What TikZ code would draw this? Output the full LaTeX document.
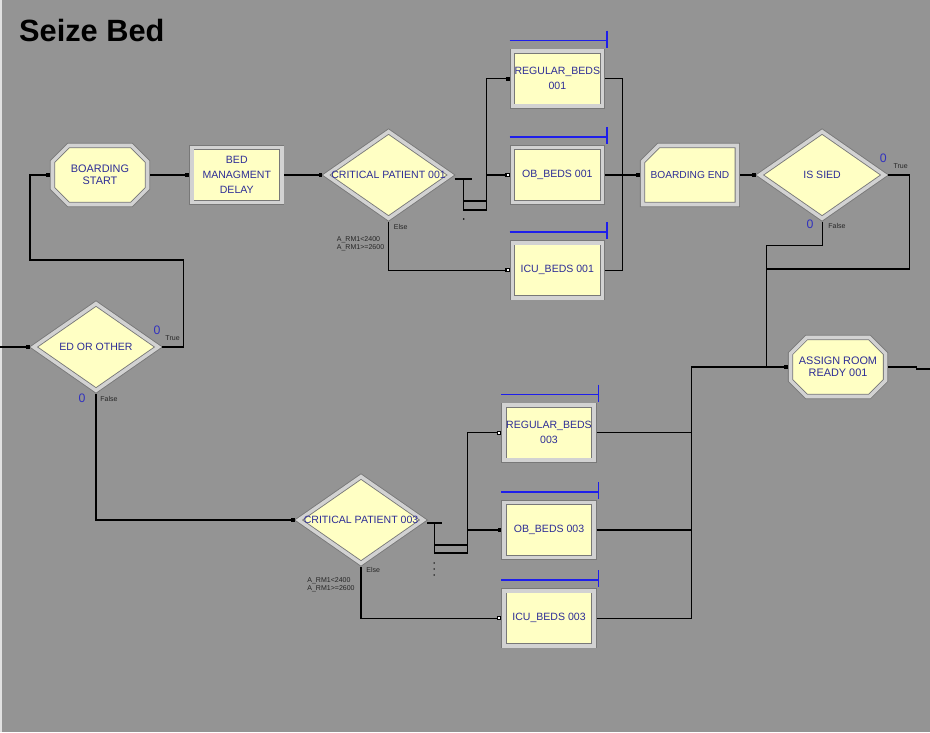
\documentclass[tikz,border=0pt]{standalone}
\usepackage{fontspec}
\setmainfont{Liberation Sans}
\usepackage{tikz}
\usetikzlibrary{shapes.geometric, shapes.misc, arrows.meta, positioning, calc}
\definecolor{cBg}{RGB}{148,148,148}
\definecolor{cFrame}{RGB}{225,225,225}
\definecolor{cFill}{RGB}{255,255,196}
\definecolor{cBevel}{RGB}{210,210,210}
\definecolor{cEdge}{RGB}{120,120,120}
\definecolor{cLabel}{RGB}{45,45,150}
\definecolor{cQueue}{RGB}{30,30,235}
\definecolor{cCount}{RGB}{50,50,190}
\tikzset{
	blk/.style   ={rectangle, draw=cEdge, double=cBevel, double distance=2pt, line width=0.5pt, outer sep=1.5pt, fill=cFill, minimum width=1.8cm, minimum height=1.1cm, inner xsep=1pt, align=center, text=cLabel, font=\fontsize{6}{8.5}\selectfont},
	seize/.style ={blk, chamfered rectangle, chamfered rectangle xsep=0.16cm, chamfered rectangle ysep=0.16cm, minimum width=1.9cm, minimum height=1.18cm, inner xsep=0pt, font=\fontsize{6.2}{6.8}\selectfont},
	decide/.style={diamond, draw=cEdge, double=cBevel, double distance=2pt, line width=0.5pt, outer sep=1.5pt, fill=cFill, minimum width=2.54cm, minimum height=1.78cm, inner sep=0pt},
	dtext/.style ={text=cLabel, font=\fontsize{6}{7}\selectfont},
	note/.style  ={font=\fontsize{4}{4.6}\selectfont, inner sep=0pt, text=black!85},
	cnt/.style   ={font=\fontsize{7}{8}\selectfont, inner sep=0pt, text=cCount},
	qline/.style ={cQueue, line width=0.8pt},
	% connectors
	flow/.style  ={-{Square[length=2.2pt,width=2.2pt]}, line width=0.6pt},
	flowo/.style ={-{Square[length=2.4pt,width=2.4pt,fill=white]}, line width=0.6pt},
	bus/.style   ={line width=0.6pt},
}
\begin{document}
\begin{tikzpicture}[font=\fontsize{6}{7}\selectfont]
	\fill[cBg] (0,0) rectangle (18.6,-14.64);
	\fill[cFrame] (0,0) rectangle (0.04,-14.64);
	\useasboundingbox (0,0) rectangle (18.6,-14.64);
	\node[anchor=base west, font=\bfseries\fontsize{17.5}{20}\selectfont] (title) at (0.26,-0.84) {Seize Bed};
	% upper row
	\node[seize] (bs) at (2.0,-3.5) {BOARDING\\START};
	\node[blk, right=0.78cm of bs] (bmd) {BED\\MANAGMENT\\DELAY};
	\node[decide, right=0.76cm of bmd, label={[dtext]center:CRITICAL PATIENT 001}] (cp1) {};
	\node[blk, right=1.1cm of cp1] (ob1) {OB\_BEDS 001};
	\node[blk, above=0.72cm of ob1] (rb1) {REGULAR\_BEDS\\001};
	\node[blk, below=0.7cm of ob1] (icu1) {ICU\_BEDS 001};
	\node[seize, chamfered rectangle corners=north west, minimum width=1.86cm, font=\fontsize{5.8}{6.8}\selectfont, right=0.7cm of ob1] (be) {BOARDING END};
	\node[decide, right=0.32cm of be, label={[dtext]center:IS SIED}] (sied) {};
	% lower row
	\node[decide, label={[dtext]center:ED OR OTHER}] (edo) at (1.92,-6.94) {};
	\node[seize] (arr) at (16.76,-7.34) {ASSIGN ROOM\\READY 001};
	\node[decide, label={[dtext]center:CRITICAL PATIENT 003}] (cp3) at (7.22,-10.4) {};
	\node[blk] (ob3) at (10.98,-10.6) {OB\_BEDS 003};
	\node[blk, above=0.74cm of ob3] (rb3) {REGULAR\_BEDS\\003};
	\node[blk, below=0.56cm of ob3] (icu3) {ICU\_BEDS 003};
	% queues
	\foreach \q in {rb1,ob1,icu1,rb3,ob3,icu3}{
		\draw[qline] ([yshift=0.16cm]\q.north west) -- ([xshift=0.04cm,yshift=0.16cm]\q.north east);
		\draw[qline] ([xshift=0.04cm,yshift=0.36cm]\q.north east) -- ([xshift=0.04cm,yshift=0.02cm]\q.north east);
	}
	% branch labels
	\node[cnt] (edoT0) at ([shift={(-0.1,0.34)}]edo.east) {0};
	\node[note, anchor=west] (edoT) at ([shift={(0.06,0.18)}]edo.east) {True};
	\node[cnt] (edoF0) at ([shift={(-0.28,-0.08)}]edo.south) {0};
	\node[note, anchor=west] (edoF) at ([shift={(0.08,-0.1)}]edo.south) {False};
	\node[cnt] (siedT0) at ([shift={(-0.1,0.34)}]sied.east) {0};
	\node[note, anchor=west] (siedT) at ([shift={(0.1,0.18)}]sied.east) {True};
	\node[cnt] (siedF0) at ([shift={(-0.24,-0.04)}]sied.south) {0};
	\node[note, anchor=west] (siedF) at ([shift={(0.12,-0.08)}]sied.south) {False};
	\node[note, anchor=west] (cp1E) at ([shift={(0.1,-0.1)}]cp1.south) {Else};
	\node[note, anchor=north west, align=left] (cp1C) at ([shift={(-1.04,-0.28)}]cp1.south) {A\_RM1<2400\\A\_RM1>=2600};
	\node[note, anchor=west] (cp3E) at ([shift={(0.1,-0.06)}]cp3.south) {Else};
	\node[note, anchor=north west, align=left] (cp3C) at ([shift={(-1.08,-0.2)}]cp3.south) {A\_RM1<2400\\A\_RM1>=2600};
	% connectors
	\coordinate (inL) at (0,-6.94);
	\draw[flow] (inL) -- (edo.west);
	\draw[flow] (edo.east) -- ++(0.42,0) |- (0.6,-5.2) |- (bs.west);
	\draw[flow] (edo.south) |- (cp3.west);
	\draw[flow] (bs.east) -- (bmd.west);
	\draw[flow] (bmd.east) -- (cp1.west);
	\coordinate (t1) at ([shift={(0.18,-0.08)}]cp1.east);
	\draw[bus] ([yshift=-0.08cm]cp1.east) -- ++(0.34,0);
	\draw[flow] (t1) -- ++(0,-0.62) -- ++(0.46,0) |- (rb1.west);
	\draw[flowo] ([yshift=-0.44cm]t1) -- ++(0.46,0) |- (ob1.west);
	\draw[flowo] (cp1.south) |- (icu1.west);
	\fill ([yshift=-0.8cm]t1) circle (0.5pt);
	\coordinate (j1) at ($(ob1.east)!0.5!(be.west)$);
	\draw[flow] (rb1.east) -| (j1) -- (be.west);
	\draw[bus] (icu1.east) -| (j1);
	\draw[flow] (ob1.east) -- (be.west);
	\draw[flow] (be.east) -- (sied.west);
	\coordinate (j2) at ([xshift=-0.42cm]arr.west);
	\draw[flow] (sied.south) -- ++(0,-0.46) -| (j2) -- (arr.west);
	\draw[bus] (sied.east) -- ++(0.42,0) |- ([yshift=1.96cm]j2);
	\coordinate (j3) at ([xshift=-1.5cm]j2);
	\draw[bus] (icu3.east) -| (j3) -- (j2);
	\draw[bus] (rb3.east) -- (rb3.east -| j3);
	\draw[bus] (ob3.east) -- (ob3.east -| j3);
	\coordinate (outR) at (18.6,-7.38);
	\draw[bus] (arr.east) -- ++(0.56,0) |- (outR);
	\coordinate (t3) at ([shift={(0.14,-0.06)}]cp3.east);
	\draw[bus] ([yshift=-0.06cm]cp3.east) -- ++(0.3,0);
	\draw[flowo] (t3) -- ++(0,-0.6) -- ++(0.66,0) |- (rb3.west);
	\draw[flow] ([yshift=-0.44cm]t3) -- ++(0.66,0) |- (ob3.west);
	\draw[flowo] (cp3.south) |- (icu3.west);
	\foreach \d in {0.8,0.92,1.04} \fill ([yshift=-\d cm]t3) circle (0.45pt);
\end{tikzpicture}
\end{document}
